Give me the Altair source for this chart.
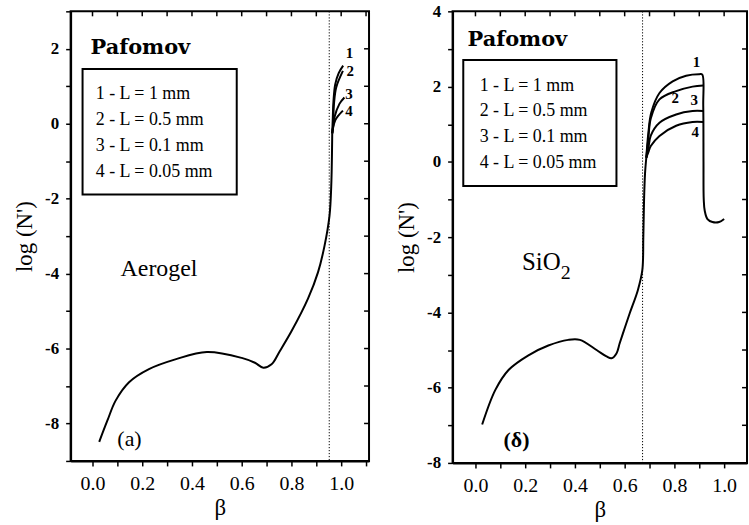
import altair as alt
import pandas as pd

# ---------------- Panel (a): Aerogel ----------------
aer_trunk_b = [0.027, 0.06, 0.093, 0.147, 0.227, 0.333, 0.46, 0.6,
               0.653, 0.687, 0.72, 0.753, 0.8, 0.867, 0.907, 0.933, 0.953, 0.96, 0.964]
aer_trunk_y = [-8.49, -7.92, -7.39, -6.9, -6.55, -6.29, -6.09, -6.25,
               -6.38, -6.51, -6.42, -6.07, -5.54, -4.66, -3.96, -3.26, -2.46, -1.67, -0.26]
aer_c1_b = [0.964, 0.966, 0.969, 0.976, 0.99, 1.008]
aer_c1_y = [-0.26, 0.1, 0.6, 1.05, 1.35, 1.55]
aer_c2_b = [0.964, 0.967, 0.971, 0.98, 1.007]
aer_c2_y = [-0.26, -0.09, 0.53, 0.97, 1.41]
aer_c3_b = [0.964, 0.967, 0.973, 0.993, 1.013]
aer_c3_y = [-0.26, -0.1, 0.17, 0.53, 0.70]
aer_c4_b = [0.964, 0.967, 0.976, 0.989, 1.007]
aer_c4_y = [-0.26, -0.12, 0.09, 0.22, 0.35]
aer_threshold = [0.952]

# ---------------- Panel (б): SiO2 ----------------
sio_trunk_b = [0.027, 0.08, 0.133, 0.213, 0.293, 0.373, 0.42, 0.487, 0.527, 0.547,
               0.567, 0.58, 0.6, 0.62, 0.653, 0.671, 0.675, 0.678, 0.682, 0.687]
sio_trunk_y = [-6.98, -6.06, -5.53, -5.14, -4.88, -4.73, -4.73, -5.0, -5.17, -5.22,
               -5.09, -4.82, -4.42, -4.03, -3.41, -2.88, -2.0, -1.0, -0.3, 0.11]
sio_c1_b = [0.687, 0.695, 0.707, 0.74, 0.793, 0.847, 0.9, 0.912, 0.916, 0.917,
            0.918, 0.922, 0.933, 0.953, 0.98, 1.0]
sio_c1_y = [0.11, 0.75, 1.31, 1.83, 2.14, 2.29, 2.33, 2.32, 1.5, 0.0,
            -1.0, -1.3, -1.52, -1.6, -1.6, -1.52]
sio_c2_b = [0.687, 0.695, 0.705, 0.74, 0.807, 0.873, 0.916]
sio_c2_y = [0.11, 0.6, 1.15, 1.66, 1.88, 2.0, 2.03]
sio_c3_b = [0.687, 0.695, 0.705, 0.74, 0.807, 0.873, 0.916]
sio_c3_y = [0.11, 0.35, 0.7, 1.04, 1.26, 1.35, 1.35]
sio_c4_b = [0.687, 0.695, 0.705, 0.74, 0.807, 0.873, 0.916]
sio_c4_y = [0.11, 0.25, 0.42, 0.69, 0.96, 1.06, 1.06]
sio_threshold = [0.672]

legend_lines = ["1 - L = 1 mm", "2 - L = 0.5 mm", "3 - L = 0.1 mm", "4 - L = 0.05 mm"]
curve_names = ["1", "2", "3", "4"]

x_tick_values = [round(0.1 * i, 1) for i in range(0, 12)]
aer_y_ticks = list(range(-9, 4))
sio_y_ticks = list(range(-8, 5))

SERIF = "Liberation Serif"


def lines_frame(pairs):
    rows = []
    for name, bs, ys in pairs:
        for i, (b, y) in enumerate(zip(bs, ys)):
            rows.append({"b": b, "y": y, "series": name, "i": i})
    return pd.DataFrame(rows)


def panel(width, height, xdom, ydom, yticks, lines_df, thr, rect, pafomov_pos,
          legend_pos, legend_step, material, letter, number_pos):
    xs = alt.Scale(domain=xdom, nice=False, zero=False)
    ys = alt.Scale(domain=ydom, nice=False, zero=False)
    xa = alt.Axis(values=x_tick_values, title="β",
                  labelExpr="round(datum.value*10) % 2 == 0 ? format(datum.value, '.1f') : ''")
    ya = alt.Axis(values=yticks, title="log (N')",
                  labelExpr="datum.value % 2 == 0 ? (datum.value < 0 ? '-' : '') + abs(datum.value) : ''")

    def X(f="b"):
        return alt.X(f + ":Q", scale=xs, axis=xa)

    def Y(f="y"):
        return alt.Y(f + ":Q", scale=ys, axis=ya)

    curves = alt.Chart(lines_df).mark_line(color="black", strokeWidth=2, interpolate="catmull-rom").encode(
        x=X(), y=Y(), detail="series:N", order="i:Q",
    )

    thr_rule = alt.Chart(pd.DataFrame({"b": thr})).mark_rule(
        color="black", strokeWidth=1, strokeDash=[1.2, 1.8]).encode(x=X())

    box = alt.Chart(pd.DataFrame([rect])).mark_rect(
        fillOpacity=0, stroke="black", strokeWidth=2).encode(
        x=X("b"), x2="b2:Q", y=Y("y"), y2="y2:Q")

    leg_df = pd.DataFrame({
        "b": [legend_pos[0]] * 4,
        "y": [legend_pos[1] - k * legend_step for k in range(4)],
        "t": legend_lines,
    })
    leg_txt = alt.Chart(leg_df).mark_text(
        align="left", baseline="alphabetic", font=SERIF, fontSize=18, color="black").encode(
        x=X(), y=Y(), text="t:N")

    paf = alt.Chart(pd.DataFrame({"b": [pafomov_pos[0]], "y": [pafomov_pos[1]], "t": ["Pafomov"]})).mark_text(
        align="left", baseline="alphabetic", font="DejaVu Serif", fontWeight="bold",
        fontSize=21, color="black").encode(x=X(), y=Y(), text="t:N")

    mat_layers = []
    for (t, b, y, size, weight) in material:
        mat_layers.append(
            alt.Chart(pd.DataFrame({"b": [b], "y": [y], "t": [t]})).mark_text(
                align="left", baseline="alphabetic", font=SERIF, fontSize=size,
                fontWeight=weight, color="black").encode(x=X(), y=Y(), text="t:N"))

    let = alt.Chart(pd.DataFrame({"b": [letter[1]], "y": [letter[2]], "t": [letter[0]]})).mark_text(
        align="left", baseline="alphabetic", font=SERIF, fontSize=22,
        fontWeight=letter[3], color="black").encode(x=X(), y=Y(), text="t:N")

    num_df = pd.DataFrame({"b": [p[0] for p in number_pos], "y": [p[1] for p in number_pos],
                           "t": curve_names})
    nums = alt.Chart(num_df).mark_text(
        align="center", baseline="middle", font=SERIF, fontSize=15, fontWeight="bold",
        color="black").encode(x=X(), y=Y(), text="t:N")

    # mirrored inward ticks on top and right edges
    top_vals = [v for v in x_tick_values if xdom[0] <= v <= xdom[1]]
    top_df = pd.DataFrame({"b": top_vals, "y": [ydom[1]] * len(top_vals),
                           "y2": [ydom[1] - (ydom[1] - ydom[0]) * 5 / height] * len(top_vals)})
    top_ticks = alt.Chart(top_df).mark_rule(color="black", strokeWidth=1.5).encode(
        x=X(), y=Y(), y2="y2:Q")
    right_vals = [v for v in yticks if ydom[0] < v < ydom[1]]
    right_df = pd.DataFrame({"y": right_vals, "b": [xdom[1]] * len(right_vals),
                             "b2": [xdom[1] - (xdom[1] - xdom[0]) * 5 / width] * len(right_vals)})
    right_ticks = alt.Chart(right_df).mark_rule(color="black", strokeWidth=1.5).encode(
        y=Y(), x=X(), x2="b2:Q")

    return alt.layer(curves, thr_rule, box, leg_txt, paf, *mat_layers, let, nums,
                     top_ticks, right_ticks).properties(width=width, height=height)


aer_df = lines_frame([
    ("0", aer_trunk_b, aer_trunk_y),
    ("1", aer_c1_b, aer_c1_y), ("2", aer_c2_b, aer_c2_y),
    ("3", aer_c3_b, aer_c3_y), ("4", aer_c4_b, aer_c4_y),
])
sio_df = lines_frame([
    ("0", sio_trunk_b, sio_trunk_y),
    ("1", sio_c1_b, sio_c1_y), ("2", sio_c2_b, sio_c2_y),
    ("3", sio_c3_b, sio_c3_y), ("4", sio_c4_b, sio_c4_y),
])

left = panel(
    300, 452, [-0.088, 1.112], [-9, 3], aer_y_ticks, aer_df, aer_threshold,
    {"b": -0.04, "b2": 0.58, "y": 1.46, "y2": -1.89},
    (-0.008, 1.85), (0.013, 0.66), 0.69,
    [("Aerogel", 0.113, -4.06, 24, "normal")],
    ("(a)", 0.1, -8.6, "normal"),
    [(1.033, 1.89), (1.036, 1.41), (1.031, 0.79), (1.031, 0.35)],
)
right = panel(
    296, 454, [-0.092, 1.092], [-8, 4], sio_y_ticks, sio_df, sio_threshold,
    {"b": -0.049, "b2": 0.567, "y": 2.71, "y2": -0.64},
    (-0.032, 3.07), (0.017, 1.89), 0.68,
    [("SiO", 0.187, -2.87, 25, "normal"), ("2", 0.343, -3.1, 20, "normal")],
    ("(δ)", 0.113, -7.58, "bold"),
    [(0.889, 2.65), (0.803, 1.70), (0.88, 1.65), (0.884, 0.80)],
)

chart = alt.hconcat(left, right, spacing=84, bounds="flush").configure(
    padding={"left": 12, "top": 0, "right": 0, "bottom": 0},
    background="white",
).configure_view(
    stroke="black", strokeWidth=2,
).configure_axis(
    grid=False, domainColor="black", domainWidth=2, tickColor="black", tickWidth=1.5,
    tickSize=5, labelFont=SERIF, labelColor="black", titleFont=SERIF, titleColor="black",
    titleFontWeight="normal", titleFontSize=23,
).configure_axisX(
    labelFontSize=20, labelPadding=8, titlePadding=3,
).configure_axisY(
    labelFontSize=17, labelFontWeight="bold", labelPadding=7, titlePadding=8,
)

chart.save("out.html", embed_options={"renderer": "svg", "actions": False})
